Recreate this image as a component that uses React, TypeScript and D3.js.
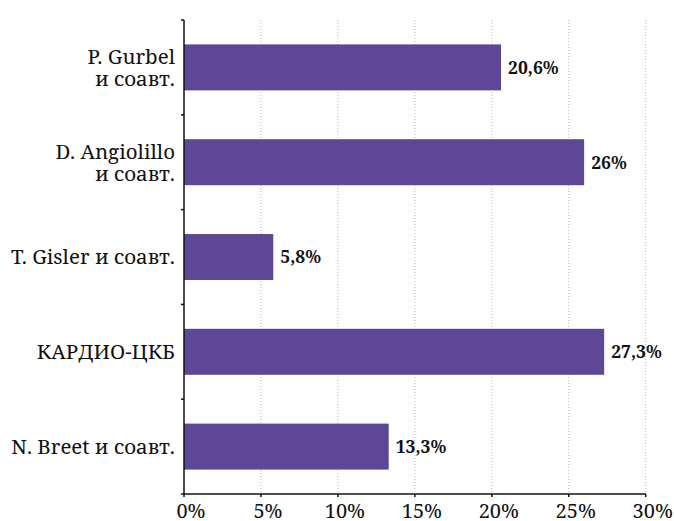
import React from "react";
import * as d3 from "d3";

const categories: string[][] = [
  ["P. Gurbel", "и соавт."],
  ["D. Angiolillo", "и соавт."],
  ["T. Gisler и соавт."],
  ["КАРДИО-ЦКБ"],
  ["N. Breet и соавт."],
];
const values: number[] = [20.6, 26, 5.8, 27.3, 13.3];
const valueLabels: string[] = ["20,6%", "26%", "5,8%", "27,3%", "13,3%"];
const xTicks: number[] = [0, 5, 10, 15, 20, 25, 30];

const W = 674;
const H = 521;
const left = 184;
const right = 645.7;
const top = 20;
const bottom = 494;
const font = '"Noto Serif", serif';

export default function App() {
  const x = d3.scaleLinear().domain([0, 30]).range([left, right]);
  const idx = categories.map((_, i) => String(i));
  const y = d3.scaleBand().domain(idx).range([top, bottom]).paddingInner(0.515).paddingOuter(0.2575);
  const bandStep = (bottom - top) / categories.length;
  const boundaries = d3.range(categories.length + 1).map((i) => top + i * bandStep);

  return (
    <svg width={W} height={H} style={{ position: "absolute", left: 0, top: 0, fontFamily: font }}>
      <rect width={W} height={H} fill="#fff" />
      {xTicks.slice(1).map((t) => (
        <line key={"g" + t} x1={x(t)} x2={x(t)} y1={top} y2={bottom} stroke="#b5b5b5" strokeWidth={1} strokeDasharray="1,2" />
      ))}
      {values.map((v, i) => (
        <rect key={"b" + i} x={x(0)} y={y(String(i))} width={x(v) - x(0)} height={y.bandwidth()} fill="#5e4796" />
      ))}
      {values.map((v, i) => (
        <text key={"v" + i} x={x(v) + 7} y={(y(String(i)) as number) + y.bandwidth() / 2} dy="0.36em" fontSize={17.5} fontWeight="bold" fill="#111" style={{ fontFamily: font }}>
          {valueLabels[i]}
        </text>
      ))}
      <line x1={left} x2={left} y1={top} y2={bottom} stroke="#111" strokeWidth={1.5} />
      {boundaries.map((b, i) => (
        <line key={"yt" + i} x1={left - 3} x2={left} y1={b} y2={b} stroke="#111" strokeWidth={1.5} />
      ))}
      <line x1={left} x2={right} y1={bottom} y2={bottom} stroke="#111" strokeWidth={1.5} />
      {xTicks.map((t) => (
        <g key={"xt" + t}>
          <line x1={x(t)} x2={x(t)} y1={bottom} y2={bottom + 3} stroke="#111" strokeWidth={1.5} />
          <text x={x(t) + 7} y={518} textAnchor="middle" fontSize={20} fill="#111" style={{ fontFamily: font }}>
            {t + "%"}
          </text>
        </g>
      ))}
      {categories.map((lines, i) => {
        const cy = (y(String(i)) as number) + y.bandwidth() / 2;
        const lh = 22;
        const start = cy - ((lines.length - 1) * lh) / 2;
        return (
          <text key={"c" + i} textAnchor="end" fontSize={20.5} fill="#111" style={{ fontFamily: font }}>
            {lines.map((l, j) => (
              <tspan key={j} x={175} y={start + j * lh} dy="0.36em">
                {l}
              </tspan>
            ))}
          </text>
        );
      })}
    </svg>
  );
}
